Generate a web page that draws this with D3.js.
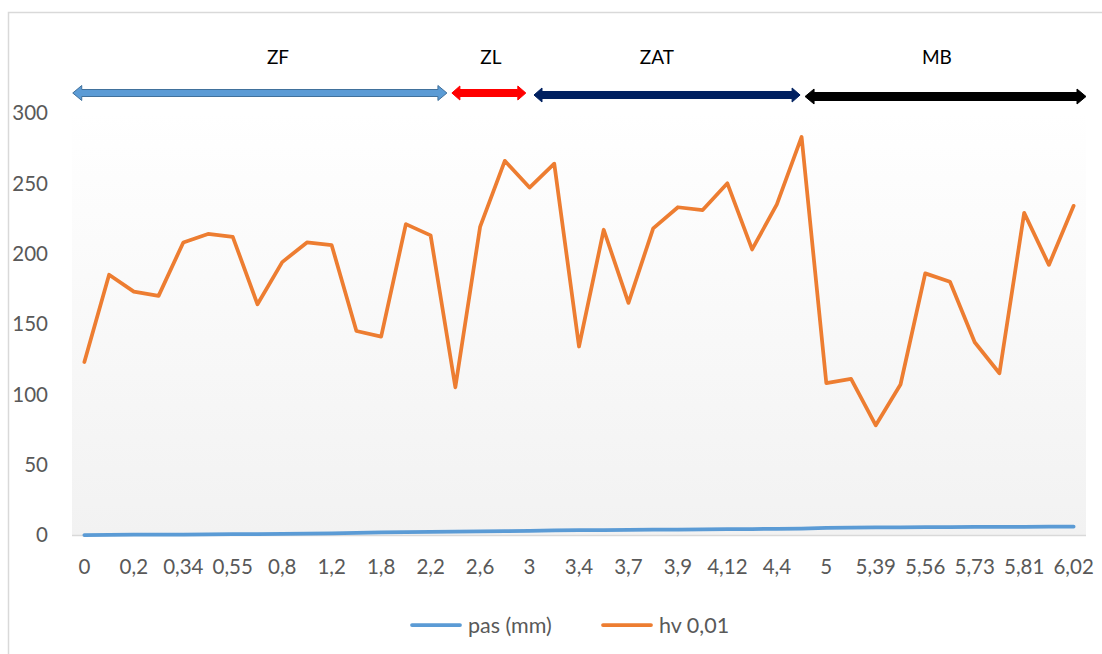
<!DOCTYPE html>
<html>
<head>
<meta charset="utf-8">
<script src="https://cdn.jsdelivr.net/npm/d3@7"></script>
<style>
  body { margin: 0; background: #fff; }
  text { font-family: Lato, "Open Sans", sans-serif; }
  .tick_label { fill: #595959; font-size: 20.5px; }
  .zone_label { fill: #000; font-size: 19px; }
  .legend_label { fill: #595959; font-size: 21.5px; }
</style>
</head>
<body>
<svg id="chart" width="1102" height="654">
  <defs>
    <linearGradient id="plot_fill" x1="0" y1="0" x2="0" y2="1">
      <stop offset="0" stop-color="#ffffff"></stop>
      <stop offset="1" stop-color="#f2f2f2"></stop>
    </linearGradient>
  </defs>
  <g id="frame"></g>
  <g id="axes"></g>
  <g id="lines"></g>
  <g id="zones"></g>
  <g id="legend"></g>
</svg>
<script>
// x categories (pas, mm); only every second one is labelled on the axis
let pas = [0, 0.1, 0.2, 0.27, 0.34, 0.45, 0.55, 0.67, 0.8, 1, 1.2, 1.5, 1.8, 2, 2.2, 2.4,
           2.6, 2.8, 3, 3.2, 3.4, 3.55, 3.7, 3.8, 3.9, 4, 4.12, 4.25, 4.4, 4.6, 5, 5.2,
           5.39, 5.47, 5.56, 5.64, 5.73, 5.77, 5.81, 5.9, 6.02];
let hv = [123, 185, 173, 170, 208, 214, 212, 164, 194, 208, 206, 145, 141, 221, 213, 105,
          219, 266, 247, 264, 134, 217, 165, 218, 233, 231, 250, 203, 235, 283, 108, 111,
          78, 107, 186, 180, 137, 115, 229, 192, 234];
let y_ticks = [0, 50, 100, 150, 200, 250, 300];
let series_names = ["pas (mm)", "hv 0,01"];

// zones along the profile, in category index units
let zone_names = ["ZF", "ZL", "ZAT", "MB"],
    zone_start = [-0.47, 14.86, 18.18, 29.14],
    zone_end = [14.66, 17.85, 28.94, 40.5],
    zone_label_at = [7.83, 16.44, 23.15, 34.47];

let width = 1102,
  height = 654,
  plot = {left: 72, right: 1086, top: 113, bottom: 535},
  colors = {pas: "#5B9BD5", hv: "#ED7D31"},
  zone_style = [
    {fill: "#5B9BD5", stroke: "#41719C", y: 93, shaft: 3.5, head: 7.5, len: 9},
    {fill: "#FF0000", stroke: "#FF0000", y: 93, shaft: 3.5, head: 7, len: 8},
    {fill: "#002060", stroke: "#002060", y: 95, shaft: 3.5, head: 7, len: 8},
    {fill: "#000000", stroke: "#000000", y: 96.5, shaft: 4, head: 7.5, len: 9}
  ];

function make_scales() {
  return {
    x: d3.scalePoint()
      .domain(d3.range(pas.length))
      .range([plot.left, plot.right])
      .padding(0.5),
    y: d3.scaleLinear()
      .domain([0, 300])
      .range([plot.bottom, plot.top])
  }
}

function fmt(v) {
  return String(v).replace(".", ",");
}

function frame() {
  let g = d3.select("#frame");
  g.append("path")
    .attr("d", `M8.5,${height + 5}V12.5H${width + 5}`)
    .attr("fill", "none")
    .attr("stroke", "#d9d9d9")
    .attr("stroke-width", 1.5);
  g.append("rect")
    .attr("x", plot.left)
    .attr("y", plot.top)
    .attr("width", plot.right - plot.left)
    .attr("height", plot.bottom - plot.top)
    .attr("fill", "url(#plot_fill)");
}

function annotations(scales) {
  let axes = d3.select("#axes");
  axes.append("line")
    .attr("x1", plot.left).attr("x2", plot.right)
    .attr("y1", plot.bottom + 0.5).attr("y2", plot.bottom + 0.5)
    .attr("stroke", "#d9d9d9")
    .attr("stroke-width", 1.5);

  axes.selectAll(".y_label")
    .data(y_ticks).enter()
    .append("text")
    .attr("class", "tick_label y_label")
    .attr("x", 48)
    .attr("y", d => scales.y(d))
    .attr("dy", "0.35em")
    .attr("text-anchor", "end")
    .text(d => d);

  let shown = d3.range(0, pas.length, 2);
  axes.selectAll(".x_label")
    .data(shown).enter()
    .append("text")
    .attr("class", "tick_label x_label")
    .attr("x", i => scales.x(i))
    .attr("y", 567)
    .attr("dy", "0.35em")
    .attr("text-anchor", "middle")
    .text(i => fmt(pas[i]));
}

function draw_lines(scales) {
  let line = d3.line()
    .x((d, i) => scales.x(i))
    .y(d => scales.y(d));
  let g = d3.select("#lines");
  [[pas, colors.pas], [hv, colors.hv]].forEach(([values, color]) => {
    g.append("path")
      .datum(values)
      .attr("d", line)
      .attr("fill", "none")
      .attr("stroke", color)
      .attr("stroke-width", 3.75)
      .attr("stroke-linecap", "round")
      .attr("stroke-linejoin", "round");
  });
}

function arrow_path(x1, x2, s) {
  let y = s.y;
  return `M${x1},${y}L${x1 + s.len},${y - s.head}L${x1 + s.len},${y - s.shaft}` +
    `L${x2 - s.len},${y - s.shaft}L${x2 - s.len},${y - s.head}L${x2},${y}` +
    `L${x2 - s.len},${y + s.head}L${x2 - s.len},${y + s.shaft}` +
    `L${x1 + s.len},${y + s.shaft}L${x1 + s.len},${y + s.head}Z`;
}

function zones(scales) {
  let step = scales.x.step(),
    ix = v => scales.x(0) + v * step;
  let g = d3.select("#zones");
  g.selectAll("path")
    .data(zone_names).enter()
    .append("path")
    .attr("d", (d, i) => arrow_path(ix(zone_start[i]), ix(zone_end[i]), zone_style[i]))
    .attr("fill", (d, i) => zone_style[i].fill)
    .attr("stroke", (d, i) => zone_style[i].stroke)
    .attr("stroke-width", 1)
    .attr("stroke-linejoin", "miter");
  g.selectAll("text")
    .data(zone_names).enter()
    .append("text")
    .attr("class", "zone_label")
    .attr("x", (d, i) => ix(zone_label_at[i]))
    .attr("y", 64)
    .attr("text-anchor", "middle")
    .text(d => d);
}

function legend() {
  let items = [
    {name: series_names[0], color: colors.pas, x: 412},
    {name: series_names[1], color: colors.hv, x: 603}
  ];
  let g = d3.select("#legend").selectAll("g")
    .data(items).enter()
    .append("g")
    .attr("transform", d => `translate(${d.x}, 625)`);
  g.append("line")
    .attr("x1", 0).attr("x2", 48)
    .attr("stroke", d => d.color)
    .attr("stroke-width", 3.75)
    .attr("stroke-linecap", "round");
  g.append("text")
    .attr("class", "legend_label")
    .attr("x", 56)
    .attr("dy", "0.35em")
    .text(d => d.name);
}

let scales = make_scales();
frame();
annotations(scales);
draw_lines(scales);
zones(scales);
legend();
</script>
</body>
</html>
